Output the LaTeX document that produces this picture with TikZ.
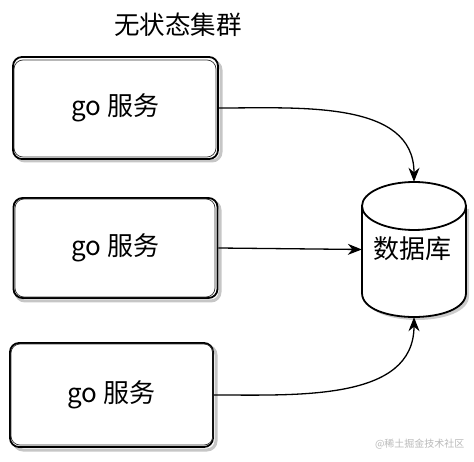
\documentclass[tikz,border=0pt]{standalone}
\usepackage{fontspec}
\setmainfont{Noto Sans CJK SC}
\usetikzlibrary{arrows.meta}
\tikzset{
  svcbox/.style={draw=black, line width=1.8pt, fill=white, rounded corners=9pt,
    minimum width=#1, minimum height=102pt, inner sep=0pt,
    font=\fontsize{26}{30}\selectfont},
  shadowbox/.style={draw=gray!45, line width=3pt, rounded corners=9pt},
  sketch/.style={draw=black!80, line width=0.7pt, rounded corners=9pt},
  conn/.style={draw=black, line width=1.3pt, -{Stealth[length=14pt,width=11pt]}},
}
\begin{document}
\begin{tikzpicture}[x=1pt,y=-1pt]
\useasboundingbox (0,0) rectangle (474,462);
% title
\node[font=\fontsize{25.5}{30}\selectfont] (title) at (178,25) {无状态集群};
% shadows
\draw[shadowbox] (16,61) rectangle (221,161);
\draw[shadowbox] (16,201) rectangle (220,301);
\draw[shadowbox] (14,346) rectangle (216,450);
% boxes
\node[svcbox=205pt] (s1) at (115.5,108) {go 服务};
\node[svcbox=204pt, minimum height=100pt] (s2) at (115.5,248) {go 服务};
\node[svcbox=203pt, minimum height=104pt] (s3) at (111.5,395) {go 服务};
% sketch strokes
\draw[sketch] (14,60) rectangle (216,157);
\draw[sketch] (15,199) rectangle (215,297);
\draw[sketch] (11,344) rectangle (213,445);
% database cylinder
\fill[gray!40] (365,209) -- (365,296) .. controls (365,328) and (469,328) .. (469,296) -- (469,209) -- cycle;
\fill[white] (362,206) -- (362,293) .. controls (362,325) and (466,325) .. (466,293) -- (466,206) -- cycle;
\fill[white] (414,206) ellipse [x radius=52, y radius=24];
\draw[line width=1.8pt] (414,206) ellipse [x radius=52, y radius=24];
\draw[line width=1.8pt] (362,206) -- (362,293) .. controls (362,325) and (466,325) .. (466,293) -- (466,206);
\node[inner sep=0pt, minimum width=104pt, minimum height=135pt] (db) at (414,249.5) {};
\node[font=\fontsize{26}{30}\selectfont] (dbl) at (412.5,249) {数据库};
% connectors
\draw[conn] (s1.east) to[out=0, in=90, looseness=1.0] (db.north);
\draw[conn] (s2.east) -- (db.west);
\draw[conn] (s3.east) to[out=0, in=-90, looseness=1.0] (db.south);
% watermark
\node[text=gray!55, font=\fontsize{10}{12}\selectfont, anchor=east] (wm) at (468,444) {@稀土掘金技术社区};
\end{tikzpicture}
\end{document}
